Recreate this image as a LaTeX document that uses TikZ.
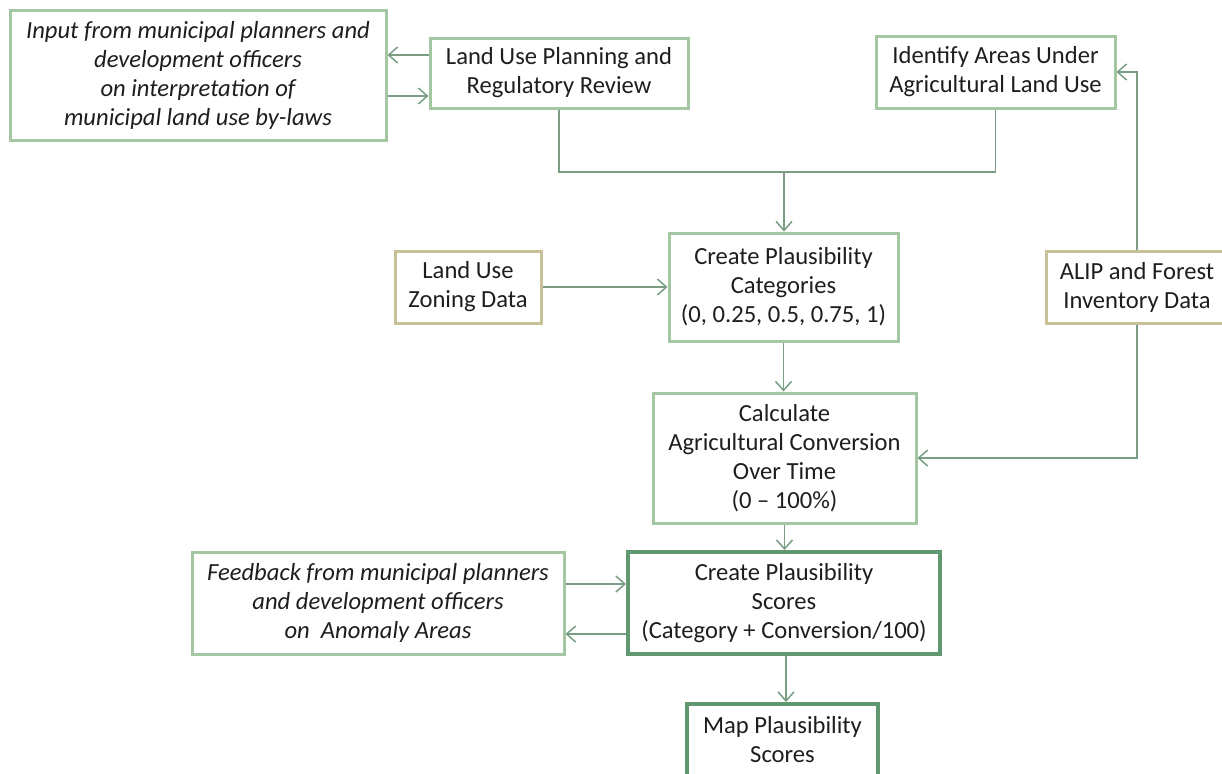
\documentclass[tikz,border=0pt]{standalone}
\usepackage{fontspec}
\setmainfont{Carlito}
\usetikzlibrary{arrows.meta,calc}
\definecolor{boxline}{RGB}{165,198,162}
\definecolor{darkline}{RGB}{98,152,112}
\definecolor{tanline}{RGB}{200,192,150}
\definecolor{conn}{RGB}{122,158,132}
\definecolor{txt}{RGB}{30,30,30}
\begin{document}
\begin{tikzpicture}[x=0.5pt,y=-0.5pt,
  every node/.style={font=\fontsize{12.3}{14.5}\selectfont, text=txt, align=center, inner sep=0pt},
  lbox/.style={draw=boxline, line width=1.5pt, fill=white},
  dbox/.style={draw=darkline, line width=2pt, fill=white},
  tbox/.style={draw=tanline, line width=1.5pt, fill=white},
  sz/.style 2 args={minimum width=#1, minimum height=#2},
  link/.style={draw=conn, line width=0.75pt},
  arr/.style={link, -{Straight Barb[length=4.5pt,width=8pt]}}]
\useasboundingbox (0,0) rectangle (1222,773);
% nodes
\node[lbox, sz={188pt}{65pt}] (inp) at (198,75)
  {\itshape Input from municipal planners and\\\itshape development officers\\\itshape on interpretation of\\\itshape municipal land use by-laws};
\node[lbox, sz={129pt}{35pt}] (lup) at (559,73) {Land Use Planning and\\Regulatory Review};
\node[lbox, sz={119.5pt}{36pt}] (ida) at (995.5,72) {Identify Areas Under\\Agricultural Land Use};
\node[lbox, sz={114.5pt}{54pt}] (cat) at (783.5,287) {Create Plausibility\\Categories\\(0, 0.25, 0.5, 0.75, 1)};
\node[tbox, sz={73pt}{36pt}] (zon) at (468,287) {Land Use\\Zoning Data};
\node[tbox, sz={91pt}{36pt}] (alip) at (1137,287) {ALIP and Forest\\Inventory Data};
\node[lbox, sz={131.5pt}{65pt}] (calc) at (784.5,458) {Calculate\\Agricultural Conversion\\Over Time\\(0 -- 100\%)};
\node[dbox, sz={156pt}{51pt}] (sco) at (784,603) {Create Plausibility\\Scores\\(Category + Conversion/100)};
\node[lbox, sz={186pt}{51pt}] (fb) at (378,603)
  {\itshape Feedback from municipal planners\\\itshape and development officers\\\itshape on\ \ Anomaly Areas};
\node[dbox, sz={95.5pt}{36pt}] (map) at (782.5,740) {Map Plausibility\\Scores};
% helper coordinates
\coordinate (ya) at (0,55);
\coordinate (yb) at (0,96);
\coordinate (j) at (784,172);
\coordinate (yc) at (0,584);
\coordinate (yd) at (0,634);
% connectors
\draw[arr] (lup.west |- ya) -- (inp.east |- ya);
\draw[arr] (inp.east |- yb) -- (lup.west |- yb);
\draw[link] (lup.south) |- (j);
\draw[link] (ida.south) |- (j);
\draw[arr] (j) -- (j |- cat.north);
\draw[arr] (zon.east) -- (cat.west);
\draw[arr] (alip.north) |- (ida.east);
\draw[arr] (alip.south) |- (calc.east);
\draw[arr] (cat.south) -- (cat.south |- calc.north);
\draw[arr] (calc.south) -- (calc.south |- sco.north);
\draw[arr] (fb.east |- yc) -- (sco.west |- yc);
\draw[arr] (sco.west |- yd) -- (fb.east |- yd);
\draw[arr] (sco.south -| map.north) ++(3.5,0) coordinate (ms) -- (ms |- map.north);
\end{tikzpicture}
\end{document}
